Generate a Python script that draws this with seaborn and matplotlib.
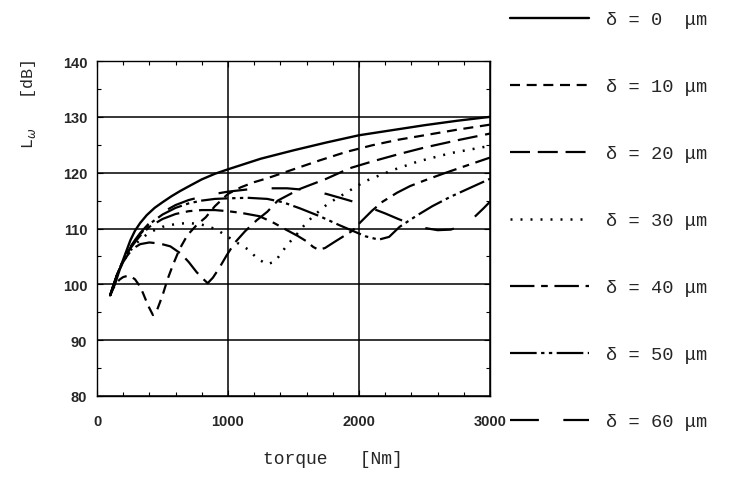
import numpy as np
import pandas as pd
import matplotlib
matplotlib.use('Agg')
import matplotlib.pyplot as plt
from matplotlib.ticker import MultipleLocator
import seaborn as sns

# ── Data (torque in Nm, L_omega in dB) ───
x_d0  = [100, 120, 137, 160, 190, 220, 255, 290, 330, 380, 440, 500, 570, 634,
         720, 800, 900, 1000, 1250, 1500, 1750, 2000, 2250, 2500, 2750, 3000]
L_d0  = [98, 99.2, 100, 101.7, 103.8, 105.7, 107.9, 109.6, 111, 112.4, 113.7,
         114.7, 115.8, 116.7, 117.8, 118.8, 119.8, 120.6, 122.5, 124.0, 125.4,
         126.7, 127.6, 128.5, 129.3, 130]

x_d10 = [100, 125, 150, 175, 200, 230, 260, 290, 320, 350, 390, 427, 460, 500,
         540, 580, 630, 690, 760, 830, 900, 1000, 1100, 1200, 1300, 1500, 1700,
         1900, 2100, 2300, 2500, 2750, 3000]
L_d10 = [98, 99.3, 100.3, 100.9, 101.3, 101.5, 101.4, 100.9, 99.9, 98.5, 96.2,
         94.5, 95.5, 98, 101, 103.5, 106.3, 108.8, 110.6, 112, 114, 116.2, 117.4,
         118.3, 119, 120.6, 122.2, 123.7, 124.9, 125.9, 126.7, 127.7, 128.6]

x_d20 = [100, 125, 150, 175, 200, 230, 260, 295, 330, 400, 480, 560, 640, 700,
         760, 800, 845, 885, 930, 990, 1050, 1130, 1220, 1300, 1380, 1550, 1750,
         1930, 2100, 2300, 2500, 2750, 3000]
L_d20 = [98, 99.8, 101.4, 102.8, 104, 105.1, 106, 106.7, 107.2, 107.5, 107.3,
         106.8, 105.5, 104, 102.2, 101.2, 100.2, 101.2, 102.8, 105.2, 107.4,
         109.5, 111.5, 113, 115, 117.1, 118.9, 120.8, 122, 123.3, 124.5, 125.8,
         127]

x_d30 = [100, 125, 150, 175, 200, 230, 260, 295, 330, 400, 500, 600, 700, 800,
         880, 940, 1000, 1080, 1150, 1230, 1300, 1360, 1450, 1530, 1590, 1650,
         1760, 1950, 2050, 2250, 2450, 2700, 3000]
L_d30 = [98, 99.8, 101.5, 102.9, 104, 105.2, 106.2, 107.2, 108, 109.3, 110.3,
         110.8, 111, 110.7, 110.1, 109.4, 108.5, 107.3, 106.3, 104.5, 103.6,
         104.1, 107, 109.1, 110.8, 112.2, 114.4, 117.1, 118.5, 120.4, 122, 123.5,
         124.8]

x_d40 = [100, 125, 150, 175, 200, 230, 260, 295, 330, 400, 500, 600, 700, 800,
         900, 1000, 1100, 1240, 1350, 1450, 1530, 1600, 1650, 1690, 1740, 1820,
         1950, 2010, 2100, 2180, 2290, 2390, 2500, 2640, 2800, 3000]
L_d40 = [98, 99.8, 101.5, 103, 104.2, 105.5, 106.6, 107.7, 108.7, 110.3, 111.7,
         112.6, 113.1, 113.3, 113.3, 113.1, 112.8, 112.2, 111, 109.7, 108.7,
         107.7, 106.7, 106.2, 106.5, 107.7, 109.6, 111.1, 113.2, 114.8, 116.4,
         117.6, 118.6, 119.8, 121.1, 122.7]

x_d50 = [100, 125, 150, 175, 200, 230, 260, 295, 330, 400, 500, 600, 700, 800,
         900, 1000, 1150, 1300, 1420, 1550, 1700, 1850, 1950, 2050, 2150, 2230,
         2310, 2440, 2560, 2700, 2850, 3000]
L_d50 = [98, 99.8, 101.5, 103, 104.3, 105.6, 106.8, 107.9, 109, 110.8, 112.5,
         113.7, 114.5, 115, 115.3, 115.4, 115.5, 115.3, 114.7, 113.6, 112.2,
         110.6, 109.6, 108.6, 108, 108.5, 110.3, 112.3, 114, 115.7, 117.3, 118.9]

x_d60 = [100, 125, 150, 175, 200, 230, 260, 295, 330, 400, 500, 600, 700, 800,
         900, 1000, 1150, 1300, 1450, 1600, 1750, 1900, 2000, 2100, 2200, 2300,
         2400, 2500, 2600, 2700, 2780, 2870, 2950, 3000]
L_d60 = [98, 99.8, 101.5, 103, 104.3, 105.7, 106.9, 108.1, 109.2, 111, 112.9,
         114.2, 115.1, 115.7, 116.2, 116.6, 117, 117.2, 117.2, 116.9, 116.2,
         115.2, 114.5, 113.6, 112.7, 111.7, 110.8, 110.1, 109.7, 109.8, 110.4,
         111.8, 113.6, 114.8]

labels = ['δ = 0  μm', 'δ = 10 μm', 'δ = 20 μm', 'δ = 30 μm',
          'δ = 40 μm', 'δ = 50 μm', 'δ = 60 μm']
xs = [x_d0, x_d10, x_d20, x_d30, x_d40, x_d50, x_d60]
ys = [L_d0, L_d10, L_d20, L_d30, L_d40, L_d50, L_d60]

# line styles (dash patterns in linewidth units)
styles = ['-',
          (0, (4.5, 3)),
          (0, (9, 3.5)),
          (0, (0.8, 3.2)),
          (0, (11, 3, 3, 3)),
          (0, (12, 2, 1.5, 2, 1.5, 2)),
          (0, (13, 11))]
widths = [1.7, 1.6, 1.6, 1.8, 1.6, 1.6, 1.6]

# ── Style ────────────────────────────────────────────────────
sns.set_style('ticks')
plt.rcParams['font.family'] = ['Liberation Sans', 'DejaVu Sans']
mono = ['Liberation Mono', 'DejaVu Sans Mono']

fig = plt.figure(figsize=(7.3, 4.85), dpi=100)
ax = fig.add_axes([97/730, 1 - 397/485, (490 - 97)/730, (397 - 62)/485])

handles = []
for x, y, ls, lw, lab in zip(xs, ys, styles, widths, labels):
    sns.lineplot(x=x, y=y, ax=ax, color='black', linewidth=lw, linestyle=ls,
                 sort=False, estimator=None, legend=False)
    ax.lines[-1].set_label(lab)
    handles.append(ax.lines[-1])

ax.set_xlim(0, 3000)
ax.set_ylim(80, 140)
ax.xaxis.set_major_locator(MultipleLocator(1000))
ax.xaxis.set_minor_locator(MultipleLocator(200))
ax.yaxis.set_major_locator(MultipleLocator(10))
ax.yaxis.set_minor_locator(MultipleLocator(5))
ax.grid(True, which='major', color='black', linewidth=1.1)
ax.tick_params(which='both', direction='in', top=True, right=True,
               color='black', width=0.8)
ax.tick_params(which='major', length=4)
ax.tick_params(which='minor', length=3)
ax.tick_params(axis='x', which='major', pad=13, labelsize=10.5)
ax.tick_params(axis='y', which='major', pad=7, labelsize=10.5)
for t in ax.get_xticklabels() + ax.get_yticklabels():
    t.set_fontweight('bold')
for s in ax.spines.values():
    s.set_color('black')
    s.set_linewidth(1.0)
ax.set_xlabel('')
ax.set_ylabel('')

# axis titles
fig.text(333/730, 1 - 460/485, 'torque   [Nm]', family=mono, fontsize=13,
         ha='center', va='center')
fig.text(28/730, 1 - 105/485, r'L$_{\omega}$   [dB]', family=mono,
         fontsize=12, rotation=90, ha='center', va='center')

# legend on the right
fig.legend(handles, labels, loc='upper left',
           bbox_to_anchor=(510/730, 1 - 12/485), bbox_transform=fig.transFigure,
           frameon=False, prop={'family': mono, 'size': 13.5},
           handlelength=4.2, handletextpad=0.9, labelspacing=2.66,
           borderaxespad=0, borderpad=0)

plt.savefig('out.png', dpi=100)
